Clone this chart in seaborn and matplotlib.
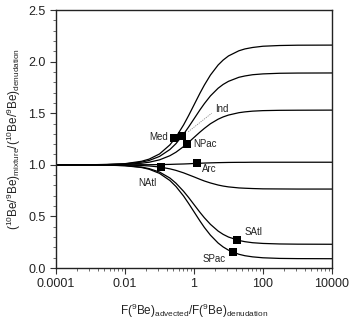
import numpy as np
import pandas as pd
import matplotlib
matplotlib.use("Agg")
import matplotlib.pyplot as plt
from matplotlib.ticker import FixedLocator, NullFormatter
import seaborn as sns

# --------------------------------------------------------------------------
# Data
# --------------------------------------------------------------------------
F_RATIO = [1e-4, 1e-3, 3e-3, 0.01, 0.03, 0.05, 0.1, 0.2, 0.3, 0.5, 0.7, 1,
           1.5, 2, 3, 5, 7, 10, 20, 30, 50, 100, 300, 1000, 1e4]

CURVE_TOP = [1.000, 1.001, 1.003, 1.011, 1.034, 1.055, 1.105, 1.193, 1.268,
             1.387, 1.478, 1.580, 1.696, 1.773, 1.870, 1.967, 2.015, 2.055,
             2.105, 2.123, 2.137, 2.149, 2.156, 2.159, 2.160]
CURVE_SECOND = [1.000, 1.001, 1.003, 1.009, 1.026, 1.042, 1.081, 1.148, 1.205,
                1.297, 1.367, 1.445, 1.534, 1.593, 1.668, 1.742, 1.779, 1.809,
                1.848, 1.861, 1.873, 1.881, 1.887, 1.889, 1.890]
CURVE_IND = [1.000, 1.001, 1.002, 1.005, 1.015, 1.025, 1.048, 1.088, 1.122,
             1.177, 1.218, 1.265, 1.318, 1.353, 1.398, 1.442, 1.464, 1.482,
             1.505, 1.513, 1.520, 1.525, 1.528, 1.529, 1.530]
CURVE_ARC = [1.000, 1.000, 1.000, 1.000, 1.001, 1.001, 1.002, 1.004, 1.006,
             1.008, 1.010, 1.013, 1.015, 1.017, 1.019, 1.021, 1.022, 1.023,
             1.024, 1.024, 1.025, 1.025, 1.025, 1.025, 1.025]
CURVE_NATL = [1.000, 1.000, 0.999, 0.998, 0.993, 0.989, 0.979, 0.961, 0.946,
              0.922, 0.903, 0.883, 0.859, 0.843, 0.824, 0.804, 0.794, 0.786,
              0.776, 0.773, 0.770, 0.767, 0.766, 0.765, 0.765]
CURVE_SATL = [1.000, 0.999, 0.998, 0.992, 0.978, 0.963, 0.930, 0.872, 0.822,
              0.743, 0.683, 0.615, 0.538, 0.487, 0.423, 0.358, 0.326, 0.300,
              0.267, 0.255, 0.245, 0.238, 0.233, 0.231, 0.230]
CURVE_SPAC = [1.000, 0.999, 0.997, 0.991, 0.974, 0.957, 0.917, 0.848, 0.790,
              0.697, 0.625, 0.545, 0.454, 0.393, 0.318, 0.242, 0.204, 0.173,
              0.133, 0.119, 0.108, 0.099, 0.093, 0.091, 0.090]

BASIN_X = [0.27, 0.45, 0.61, 0.108, 1.2, 18, 13.2]
BASIN_Y = [1.257, 1.279, 1.20, 0.975, 1.02, 0.27, 0.158]

X_TICKS = [1e-4, 1e-2, 1, 1e2, 1e4]
X_TICK_LABELS = ["0.0001", "0.01", "1", "100", "10000"]

curves = {
    "top": CURVE_TOP, "second": CURVE_SECOND, "Ind": CURVE_IND,
    "Arc": CURVE_ARC, "NAtl": CURVE_NATL, "SAtl": CURVE_SATL, "SPac": CURVE_SPAC,
}
df = pd.concat(
    [pd.DataFrame({"F": F_RATIO, "ratio": vals, "curve": name})
     for name, vals in curves.items()],
    ignore_index=True,
)
pts = pd.DataFrame({"F": BASIN_X, "ratio": BASIN_Y})

sns.set_style("ticks")
plt.rcParams["font.family"] = ["Liberation Sans", "DejaVu Sans"]
plt.rcParams["mathtext.fontset"] = "custom"
plt.rcParams["mathtext.rm"] = "Liberation Sans"
plt.rcParams["mathtext.it"] = "Liberation Sans:italic"

fig = plt.figure(figsize=(3.53, 3.21), dpi=100)
ax = fig.add_axes([0.1586, 0.1651, 0.7819, 0.8037])

sns.lineplot(data=df, x="F", y="ratio", hue="curve",
             palette=["black"] * len(curves), estimator=None,
             linewidth=0.9, legend=False, ax=ax)
sns.scatterplot(data=pts, x="F", y="ratio", marker="s", s=34,
                color="black", edgecolor="black", linewidth=0, zorder=5, ax=ax)

# dotted leader to the Ind label
ax.plot([0.68, 3.26], [1.32, 1.50], color="0.55", linestyle=(0, (1.5, 1.2)),
        linewidth=0.6)

lab = dict(fontsize=7, color="#222222", va="center")
ax.text(0.178, 1.27, "Med", ha="right", **lab)
ax.text(0.95, 1.20, "NPac", ha="left", **lab)
ax.text(4.0, 1.537, "Ind", ha="left", **lab)
ax.text(1.67, 0.956, "Arc", ha="left", **lab)
ax.text(0.083, 0.827, "NAtl", ha="right", **lab)
ax.text(30, 0.352, "SAtl", ha="left", **lab)
ax.text(1.79, 0.084, "SPac", ha="left", **lab)

ax.set_xscale("log")
ax.set_xlim(1e-4, 1e4)
ax.set_ylim(0, 2.5)
ax.xaxis.set_major_locator(FixedLocator(X_TICKS))
ax.set_xticklabels(X_TICK_LABELS)
minor = [m * k ** 2 for m in X_TICKS[:-1] for k in range(2, 10)]
ax.xaxis.set_minor_locator(FixedLocator(minor))
ax.xaxis.set_minor_formatter(NullFormatter())
ax.set_yticks([0, 0.5, 1.0, 1.5, 2.0, 2.5])
ax.set_yticklabels(["0.0", "0.5", "1.0", "1.5", "2.0", "2.5"])
ax.set_yticks(np.arange(0, 2.51, 0.1), minor=True)

ax.tick_params(axis="both", which="major", labelsize=9, length=4,
               width=0.8, direction="out", colors="#333333", labelcolor="#222222")
ax.tick_params(axis="both", which="minor", length=2.5, width=0.6,
               direction="out", colors="#555555")
for side in ["top", "right", "bottom", "left"]:
    ax.spines[side].set_visible(True)
    ax.spines[side].set_linewidth(1.0)
    ax.spines[side].set_color("#222222")

ax.set_xlabel(r"F($^{9}$Be)$_{\mathrm{advected}}$/F($^{9}$Be)$_{\mathrm{denudation}}$",
              fontsize=8.5, labelpad=8, color="#222222")
ax.set_ylabel(r"($^{10}$Be/$^{9}$Be)$_{\mathrm{mixture}}$/($^{10}$Be/$^{9}$Be)$_{\mathrm{denudation}}$",
              fontsize=8.5, labelpad=4, color="#222222")

fig.savefig("out.png", dpi=100)
